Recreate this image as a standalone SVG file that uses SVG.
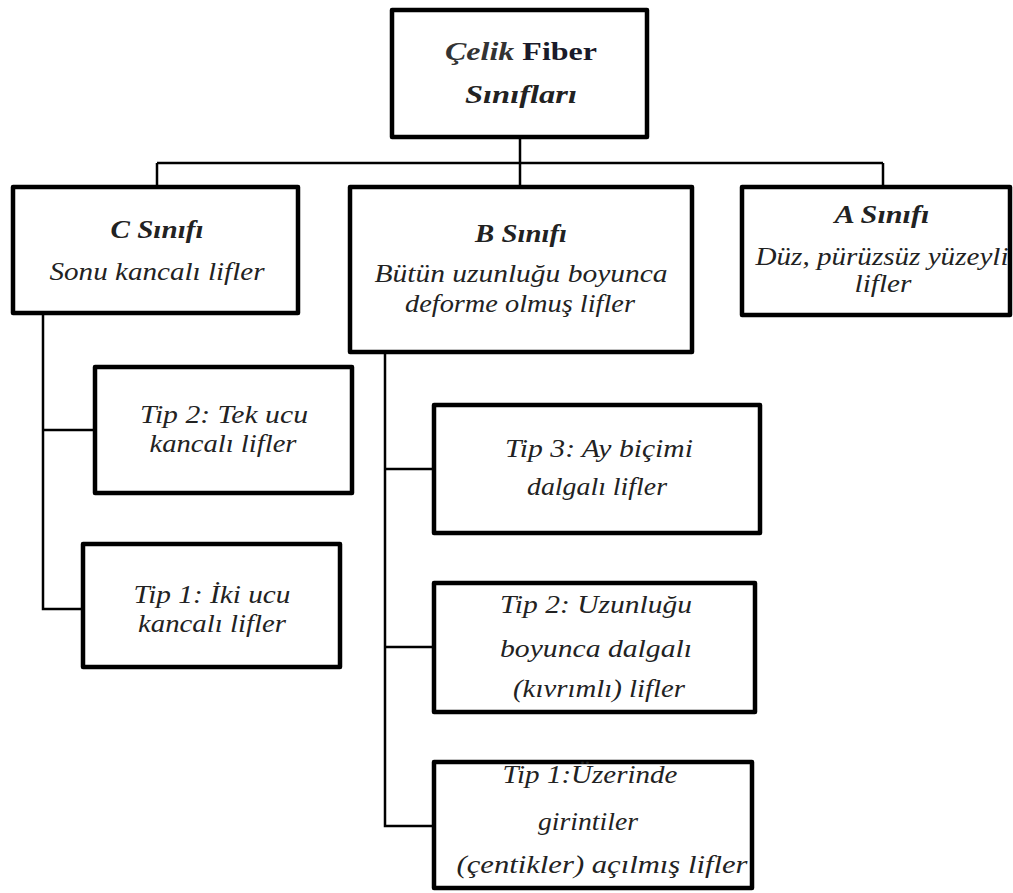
<svg xmlns="http://www.w3.org/2000/svg" width="1013" height="893" viewBox="0 0 1013 893">
<style>
.box{fill:#fff;stroke:#000;stroke-width:4.5;stroke-linejoin:round}
.con{fill:none;stroke:#000;stroke-width:2.5}
text{font-family:"Liberation Serif","Times New Roman",serif;font-size:26px;fill:#222;text-anchor:middle;font-style:italic}
.b{font-weight:bold}
</style>
<rect width="1013" height="893" fill="#fff"/>
<g id="connectors">
<path class="con" d="M520 137V163M157 163H883M157 163V187M520 163V187M883 163V187"/>
<path class="con" d="M43 313V609H83M43 430H95"/>
<path class="con" d="M385 352V826H434M385 469H434M385 647H434"/>
</g>
<g id="root">
<rect class="box" x="392" y="10" width="255" height="127"/>
<text x="521" y="60" font-size="27" textLength="152" lengthAdjust="spacingAndGlyphs"><tspan class="b" fill="#333">Çelik</tspan> <tspan class="b" font-style="normal" fill="#1a1a2a">Fiber</tspan></text>
<text class="b" x="521" y="103" font-size="27" textLength="112" lengthAdjust="spacingAndGlyphs">Sınıfları</text>
</g>
<g id="c-sinifi">
<rect class="box" x="13" y="187" width="285" height="126"/>
<text class="b" x="157" y="238" textLength="93" lengthAdjust="spacingAndGlyphs">C Sınıfı</text>
<text x="157" y="280" textLength="215" lengthAdjust="spacingAndGlyphs">Sonu kancalı lifler</text>
</g>
<g id="b-sinifi">
<rect class="box" x="350" y="187" width="342" height="165"/>
<text class="b" x="521" y="242" textLength="92" lengthAdjust="spacingAndGlyphs">B Sınıfı</text>
<text x="521" y="282" textLength="293" lengthAdjust="spacingAndGlyphs">Bütün uzunluğu boyunca</text>
<text x="520" y="312" textLength="230" lengthAdjust="spacingAndGlyphs">deforme olmuş lifler</text>
</g>
<g id="a-sinifi">
<rect class="box" x="742" y="187" width="268" height="128"/>
<text class="b" x="882" y="223" textLength="95" lengthAdjust="spacingAndGlyphs">A Sınıfı</text>
<text x="882" y="265" textLength="253" lengthAdjust="spacingAndGlyphs">Düz, pürüzsüz yüzeyli</text>
<text x="883" y="292" textLength="57" lengthAdjust="spacingAndGlyphs">lifler</text>
</g>
<g id="c-tip2">
<rect class="box" x="95" y="367" width="257" height="126"/>
<text x="224" y="423" textLength="168" lengthAdjust="spacingAndGlyphs">Tip 2: Tek ucu</text>
<text x="223" y="452" textLength="147" lengthAdjust="spacingAndGlyphs">kancalı lifler</text>
</g>
<g id="c-tip1">
<rect class="box" x="83" y="544" width="257" height="123"/>
<text x="212" y="603" textLength="157" lengthAdjust="spacingAndGlyphs">Tip 1: İki ucu</text>
<text x="212" y="632" textLength="148" lengthAdjust="spacingAndGlyphs">kancalı lifler</text>
</g>
<g id="b-tip3">
<rect class="box" x="434" y="405" width="326" height="128"/>
<text x="599" y="457" textLength="188" lengthAdjust="spacingAndGlyphs">Tip 3: Ay biçimi</text>
<text x="597" y="495" textLength="140" lengthAdjust="spacingAndGlyphs">dalgalı lifler</text>
</g>
<g id="b-tip2">
<rect class="box" x="434" y="583" width="321" height="129"/>
<text x="596" y="613" textLength="192" lengthAdjust="spacingAndGlyphs">Tip 2: Uzunluğu</text>
<text x="596" y="657" textLength="192" lengthAdjust="spacingAndGlyphs">boyunca dalgalı</text>
<text x="599" y="697" textLength="172" lengthAdjust="spacingAndGlyphs">(kıvrımlı)  lifler</text>
</g>
<g id="b-tip1">
<rect class="box" x="434" y="762" width="318" height="126"/>
<text x="590" y="783" textLength="175" lengthAdjust="spacingAndGlyphs">Tip 1:Üzerinde</text>
<text x="588" y="830" textLength="100" lengthAdjust="spacingAndGlyphs">girintiler</text>
<text x="602" y="873" textLength="291" lengthAdjust="spacingAndGlyphs">(çentikler) açılmış lifler</text>
</g>
</svg>
